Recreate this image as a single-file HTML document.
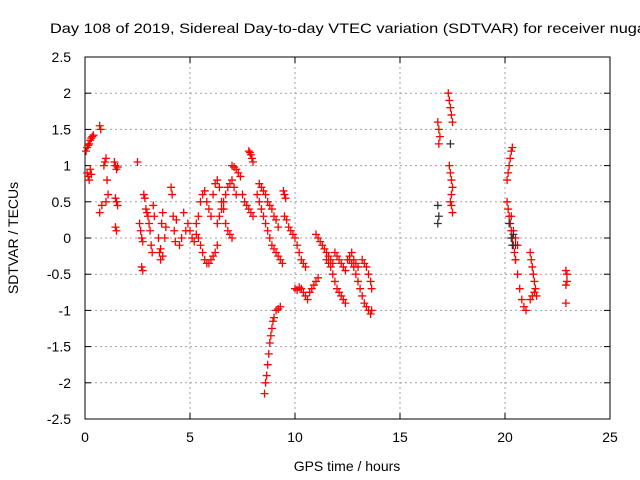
<!DOCTYPE html>
<html><head><meta charset="utf-8"><style>
body{margin:0;background:#fff}
svg{display:block;font-family:"Liberation Sans",sans-serif}
</style></head><body>
<svg id="chart" width="640" height="480" xmlns="http://www.w3.org/2000/svg">
<rect width="640" height="480" fill="#fff"/>
<text x="50" y="33" font-size="14" textLength="596" lengthAdjust="spacingAndGlyphs">Day 108 of 2019, Sidereal Day-to-day VTEC variation (SDTVAR) for receiver nuga</text>
<g id="grid"></g>
<g id="axes"></g>
<g id="marks"></g>
<text x="347" y="471" font-size="14" text-anchor="middle">GPS time / hours</text>
<text transform="translate(18,238) rotate(-90)" font-size="14" text-anchor="middle">SDTVAR / TECUs</text>
</svg>
<script>
const xTicks=[0,5,10,15,20,25];
const yTicks=[-2.5,-2,-1.5,-1,-0.5,0,0.5,1,1.5,2,2.5];
const yTickLabels=["-2.5","-2","-1.5","-1","-0.5","0","0.5","1","1.5","2","2.5"];
// red series: [hour] and [TECU], one line per cluster (aligned)
const redTimes=[
0.05,0.1,0.15,0.2,0.25,0.3,0.35,0.4,
0.1,0.15,0.2,0.25,0.3,
0.7,0.75,0.7,0.8,
0.9,0.95,1.0,1.05,1.1,1.0,
1.4,1.45,1.5,1.55,1.45,1.5,1.55,1.45,1.5,
2.5,2.6,2.65,2.7,2.75,2.7,2.75,2.8,2.85,
2.9,2.95,3.0,3.05,3.1,3.15,3.2,3.25,3.3,
3.5,3.55,3.6,3.65,3.7,3.6,3.7,3.8,3.85,
4.1,4.15,4.2,4.25,4.3,4.35,
4.5,4.6,4.7,4.8,4.9,
5.0,5.1,5.2,5.3,5.4,5.5,5.6,5.7,5.8,5.9,6.0,6.1,6.2,6.3,
5.3,5.4,5.5,5.6,5.7,5.8,5.9,6.0,6.1,6.2,6.3,6.4,6.5,6.6,6.7,6.8,6.9,7.0,
6.3,6.4,6.5,6.6,6.7,6.8,6.9,7.0,7.1,7.2,
7.0,7.1,7.2,7.3,7.4,7.5,7.6,7.7,7.8,7.9,8.0,
7.8,7.85,7.9,7.95,8.0,
8.3,8.4,8.5,8.6,8.7,8.8,8.9,9.0,9.1,9.2,
8.2,8.3,8.4,8.5,8.6,8.7,8.8,8.9,9.0,9.1,9.2,9.3,9.4,
8.55,8.6,8.65,8.7,8.75,8.8,8.85,8.9,8.95,9.0,9.1,9.2,9.3,
9.45,9.5,9.55,
9.5,9.6,9.7,9.8,9.9,10.0,10.1,10.2,10.3,10.4,10.5,
10.0,10.1,10.2,10.3,10.4,10.5,10.6,10.7,10.8,10.9,11.0,11.1,
11.0,11.1,11.2,11.3,11.4,11.5,11.6,11.7,11.8,
11.5,11.6,11.7,11.8,11.9,12.0,12.1,12.2,12.3,12.4,
11.9,12.0,12.1,12.2,12.3,12.4,
12.5,12.6,12.7,12.8,12.9,13.0,
12.6,12.7,12.8,12.9,13.0,13.1,13.2,13.3,13.4,13.5,13.6,13.65,
13.2,13.3,13.4,13.5,13.6,13.65,
16.8,16.85,16.9,16.85,
17.3,17.35,17.4,17.45,17.5,17.35,17.4,17.45,17.5,17.45,17.4,17.45,17.5,
20.1,20.15,20.2,20.25,20.3,20.35,
20.1,20.15,20.2,20.25,20.3,20.35,20.4,20.45,20.5,
20.5,20.6,20.7,20.8,20.9,21.0,
20.3,20.4,20.5,20.6,
21.2,21.25,21.3,21.35,21.4,21.45,21.5,21.2,21.3,21.4,
22.9,22.95,22.9,22.95,22.9];
const redValues=[
1.2,1.25,1.28,1.3,1.35,1.38,1.4,1.42,
0.9,0.85,0.8,0.95,0.88,
1.55,1.5,0.35,0.45,
1.0,1.05,1.1,0.8,0.6,0.5,
1.05,1.0,0.95,0.98,0.55,0.5,0.45,0.15,0.1,
1.05,0.2,0.1,0.0,-0.05,-0.4,-0.45,0.6,0.55,
0.4,0.35,0.3,0.2,0.1,-0.1,-0.2,0.45,0.3,
0.0,-0.2,-0.3,0.2,0.35,-0.15,-0.25,0.0,0.15,
0.7,0.6,0.3,0.1,-0.05,0.25,
-0.1,0.0,0.35,0.1,0.2,
0.1,0.0,-0.05,0.05,0.0,-0.1,-0.2,-0.3,-0.35,-0.35,-0.3,-0.25,-0.2,-0.1,
0.2,0.3,0.5,0.6,0.65,0.5,0.4,0.3,0.6,0.75,0.8,0.7,0.5,0.4,0.2,0.1,0.05,0.0,
0.2,0.3,0.4,0.5,0.6,0.7,0.75,0.8,0.7,0.6,
1.0,0.98,0.95,0.9,0.85,0.6,0.5,0.45,0.4,0.35,0.3,
1.2,1.18,1.15,1.1,1.05,
0.75,0.7,0.65,0.6,0.5,0.45,0.4,0.3,0.25,0.15,
0.6,0.5,0.4,0.3,0.2,0.1,0.0,-0.1,-0.15,-0.2,-0.25,-0.3,-0.35,
-2.15,-2.0,-1.9,-1.75,-1.6,-1.45,-1.35,-1.25,-1.15,-1.1,-1.0,-0.98,-0.95,
0.65,0.6,0.55,
0.3,0.25,0.15,0.1,0.05,0.0,-0.1,-0.2,-0.3,-0.35,-0.4,
-0.7,-0.72,-0.68,-0.7,-0.75,-0.8,-0.85,-0.75,-0.7,-0.65,-0.6,-0.55,
0.05,0.0,-0.05,-0.1,-0.15,-0.2,-0.25,-0.3,-0.35,
-0.3,-0.35,-0.4,-0.5,-0.6,-0.7,-0.75,-0.8,-0.85,-0.9,
-0.2,-0.25,-0.3,-0.35,-0.4,-0.45,
-0.3,-0.25,-0.2,-0.3,-0.35,-0.4,
-0.3,-0.35,-0.4,-0.5,-0.6,-0.7,-0.8,-0.9,-0.95,-1.0,-1.05,-1.0,
-0.3,-0.35,-0.4,-0.5,-0.6,-0.7,
1.6,1.5,1.4,1.3,
2.0,1.9,1.8,1.7,1.6,1.0,0.9,0.8,0.7,0.6,0.5,0.45,0.35,
0.8,0.9,1.0,1.1,1.2,1.25,
0.5,0.4,0.3,0.2,0.1,0.0,-0.1,-0.2,-0.3,
-0.3,-0.5,-0.7,-0.85,-0.95,-1.0,
0.3,0.1,0.0,-0.1,
-0.2,-0.3,-0.4,-0.5,-0.6,-0.7,-0.8,-0.85,-0.8,-0.75,
-0.45,-0.5,-0.65,-0.6,-0.9];
// dark grey series
const greyTimes=[16.8,16.85,16.8,17.4,20.2,20.3,20.35,20.4,20.5];
const greyValues=[0.45,0.3,0.2,1.3,0.2,0.0,-0.1,0.05,-0.1];

const X0=85,X1=610,Y0=419,Y1=57;
const xs=v=>X0+(v-0)/(25-0)*(X1-X0);
const ys=v=>Y0-(v+2.5)/5*(Y0-Y1);
const NS="http://www.w3.org/2000/svg";
function mk(tag,attrs,parent){const e=document.createElementNS(NS,tag);for(const k in attrs)e.setAttribute(k,attrs[k]);parent.appendChild(e);return e;}
const grid=document.getElementById('grid'),axes=document.getElementById('axes'),marks=document.getElementById('marks');
xTicks.forEach(t=>{
  const x=xs(t);
  if(t>0&&t<25){const l=mk('line',{x1:x,y1:Y1,x2:x,y2:Y0,stroke:'#a0a0a0','stroke-dasharray':'2,3','stroke-width':1},grid);
  
  }
  mk('line',{x1:x,y1:Y0,x2:x,y2:Y0-6,stroke:'#000'},axes);
  mk('line',{x1:x,y1:Y1,x2:x,y2:Y1+6,stroke:'#000'},axes);
  const tx=mk('text',{x:x,y:Y0+23,'font-size':14,'text-anchor':'middle'},axes);tx.textContent=t;
  
  
});
yTicks.forEach((t,i)=>{
  const y=ys(t);
  if(i>0&&i<yTicks.length-1){const l=mk('line',{x1:X0,y1:y,x2:X1,y2:y,stroke:'#a0a0a0','stroke-dasharray':'2,3','stroke-width':1},grid);
  
  }
  mk('line',{x1:X0,y1:y,x2:X0+6,y2:y,stroke:'#000'},axes);
  mk('line',{x1:X1,y1:y,x2:X1-6,y2:y,stroke:'#000'},axes);
  const tx=mk('text',{x:X0-14,y:y+5,'font-size':14,'text-anchor':'end'},axes);tx.textContent=yTickLabels[i];
  
  
});
mk('rect',{x:X0,y:Y1,width:X1-X0,height:Y0-Y1,fill:'none',stroke:'#000'},axes);
function plus(t,v,color,name){
  const x=xs(t),y=ys(v);
  const p=mk('path',{d:`M${x-4},${y}H${x+4}M${x},${y-4}V${y+4}`,stroke:color,'stroke-width':1.3},marks);
  
  
}
redTimes.forEach((t,i)=>plus(t,redValues[i],'#ff0000','red-point'));
greyTimes.forEach((t,i)=>plus(t,greyValues[i],'#333333','grey-point'));
</script>
</body></html>
